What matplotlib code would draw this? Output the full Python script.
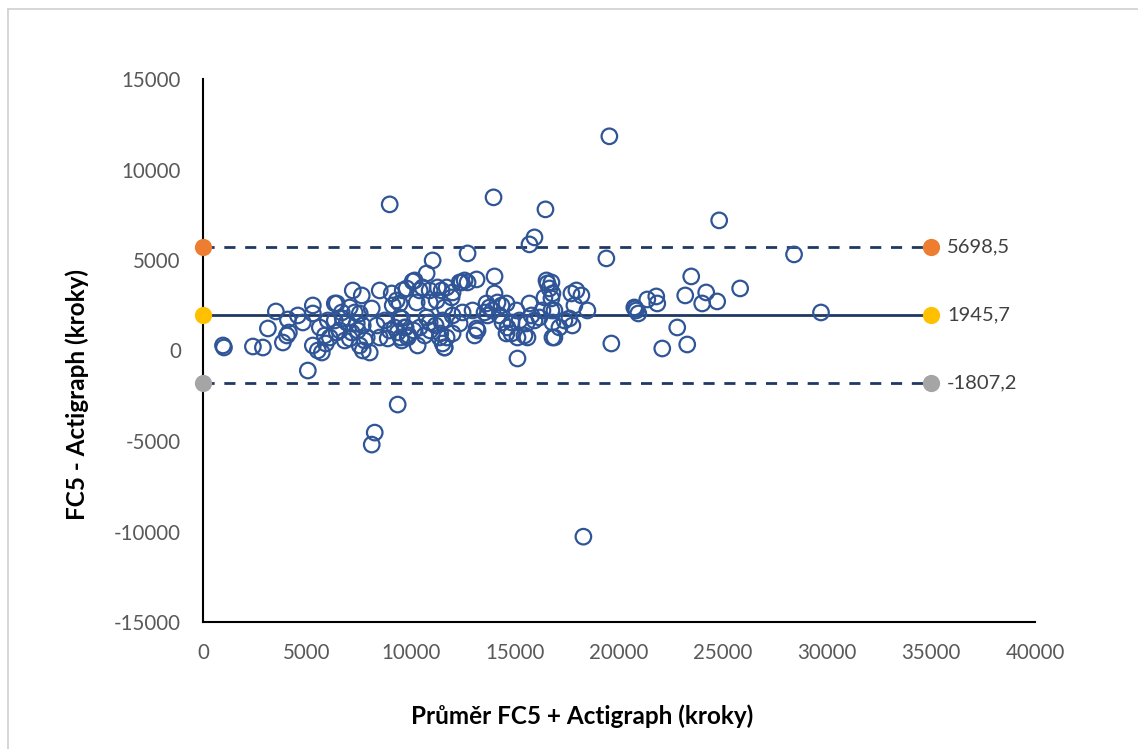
import matplotlib
matplotlib.use("Agg")
import matplotlib.pyplot as plt
from matplotlib.lines import Line2D

# Bland-Altman data: mean of FC5 and Actigraph (x), difference FC5 - Actigraph (y)
mean_steps = [
    960, 1008, 2400, 2880, 3120, 3504, 3840, 4032, 4128, 4080, 4560, 4800, 5040, 5280, 5280,
    5280, 5520, 5712, 5856, 6000, 6096, 6336,
    6432, 7200, 7632, 7056, 7296, 8112, 6336, 6912, 6432, 7152, 7680, 7776, 8016, 7680, 8496,
    8496, 9072, 9312, 9120, 9792, 10176, 10416, 10896, 11280, 10272, 10896, 11232, 11040, 9552,
    9696, 9552, 9840, 10320, 10416, 10896, 11472, 11376, 11616, 8736, 8976, 8352, 7392,
    9456, 9216, 8880, 9360, 9888, 10128, 10656, 10752, 11184, 10752, 10080, 6672,
    5616, 5904, 6576, 6816, 7056, 7440, 7872, 7536, 6720, 7536,
    10560, 9600, 12432, 9456, 9744, 9504, 10920, 11408,
    11712, 12000, 12336, 12576, 12720, 13152, 14016, 14016, 14160, 14352, 14592, 13920, 13680,
    14256, 14400, 14640, 14832, 15072, 15216, 15456, 15600, 15696, 15792, 15936, 16176, 16320,
    16512, 16560, 16656, 16416, 16752, 16896, 16800, 15120, 11712, 11520, 12000, 11616, 12960,
    13152, 13056, 13200, 12480, 12336, 12000, 11520, 11616, 11952, 11472, 13776, 13536, 13632,
    14592, 15120, 15552, 14832,
    16752, 16800, 16752, 16800, 16896, 17136, 17376, 17616, 17760, 17712, 17952, 18192, 17856,
    18480, 19392, 19632, 20736, 20832, 20928, 21360, 21792, 21840, 22080, 22800, 20784,
    19536, 24816, 28416, 23472, 24192, 23184, 25824, 24720, 24000, 23280, 29712,
    8976, 13968, 16464, 15936, 15696, 12720, 9360, 8256, 8112, 18288,
]
diff_steps = [
    277, 166, 221, 166, 1217, 2157, 442, 830, 995, 1714, 1936, 1548, -1106, 2489, 2046,
    277, 0, -111, 830, 1659, 719, 2599,
    2599, 3318, 3042, 2378, 2101, 2323, 1659, 1548, 995, 995, 1383, 553, -111, 0, 719,
    3318, 3152, 2765, 2489, 3429, 3871, 3318, 3318, 3484, 2654, 2654, 2765, 4977, 1770,
    1272, 553, 719, 277, 1272, 1548, 1548, 719, 166, 1659, 1106, 1383, 1493,
    1825, 1272, 664, 995, 830, 1106, 830, 1825, 1383, 4258, 3816, 2101,
    1272, 387, 1106, 553, 664, 1106, 719, 277, 1770, 2046,
    3484, 3318, 3760, 2599, 1272, 719, 1106, 940,
    3484, 3207, 3760, 3871, 3760, 3926, 4092, 3152, 2654, 2489, 2599, 2212, 1936,
    1936, 1548, 1272, 940, 2212, 1659, 830, 719, 2599, 1936, 1659, 1825, 2212,
    3871, 3705, 3429, 2931, 2876, 2212, 719, -442, 719, 387, 940, 166, 2212,
    1217, 830, 1106, 2101, 1493, 1936, 1659, 2378, 2931, 3318, 2378, 2101, 2599,
    940, 719, 1493, 1548,
    3760, 3152, 2212, 1548, 719, 1272, 1659, 1770, 1383, 3152, 3318, 3042, 2489,
    2212, 5088, 387, 2378, 2212, 2046, 2820, 2986, 2599, 111, 1272, 2323,
    11834, 7189, 5309, 4092, 3207, 3042, 3429, 2710, 2599, 332, 2101,
    8074, 8461, 7797, 6249, 5862, 5364, -2986, -4535, -5198, -10286,
]

bias = 1945.7
upper_loa = 5698.5
lower_loa = -1807.2
line_x = [0, 35000]
loa_labels = ["5698,5", "1945,7", "-1807,2"]
loa_values = [upper_loa, bias, lower_loa]
loa_colors = ["#ED7D31", "#FFC000", "#A5A5A5"]
loa_styles = ["--", "-", "--"]

x_ticks = [0, 5000, 10000, 15000, 20000, 25000, 30000, 35000, 40000]
y_ticks = [-15000, -10000, -5000, 0, 5000, 10000, 15000]

font = ["Lato", "DejaVu Sans"]
plt.rcParams["font.family"] = font
plt.rcParams["axes.unicode_minus"] = False

fig = plt.figure(figsize=(11.38, 7.49), dpi=100)
# chart-area frame (only top and left edges visible in the crop)
fig.lines.append(Line2D([8 / 1138, 1], [1 - 9 / 749, 1 - 9 / 749], transform=fig.transFigure,
                        color="#D0D0D0", linewidth=1.2))
fig.lines.append(Line2D([8 / 1138, 8 / 1138], [0, 1 - 9 / 749], transform=fig.transFigure,
                        color="#D0D0D0", linewidth=1.2))

ax = fig.add_axes([203 / 1138, 1 - 622 / 749, (1035 - 203) / 1138, (622 - 79) / 749])

navy = "#203864"
point_blue = "#2F5597"

for val, ls in zip(loa_values, loa_styles):
    ax.plot(line_x, [val, val], color=navy, linestyle=ls, linewidth=2,
            dashes=(4, 3.5) if ls == "--" else (None, None), zorder=2)

ax.scatter(mean_steps, diff_steps, s=125, facecolors="none", edgecolors=point_blue,
           linewidths=1.6, zorder=3)

for val, col, lab in zip(loa_values, loa_colors, loa_labels):
    ax.scatter(line_x, [val, val], s=130, color=col, zorder=4, clip_on=False)
    ax.annotate(lab, xy=(35000, val), xytext=(16, 0), textcoords="offset pixels",
                ha="left", va="center", fontsize=14.5, color="#404040")

ax.set_xlim(0, 40000)
ax.set_ylim(-15000, 15000)
ax.set_xticks(x_ticks)
ax.set_yticks(y_ticks)
ax.tick_params(axis="y", length=0, labelsize=14.8, labelcolor="#595959", pad=16)
ax.tick_params(axis="x", length=0, labelsize=14.8, labelcolor="#595959", pad=15)
for s in ["top", "right"]:
    ax.spines[s].set_visible(False)
for s in ["left", "bottom"]:
    ax.spines[s].set_color("black")
    ax.spines[s].set_linewidth(1.5)

fig.text(77 / 1138, 1 - 394 / 749, "FC5 - Actigraph (kroky)", rotation=90,
         ha="center", va="center", fontsize=17.5, fontweight="bold", color="black")
fig.text(582 / 1138, 1 - 716 / 749, "Průměr FC5 + Actigraph (kroky)",
         ha="center", va="center", fontsize=17.5, fontweight="bold", color="black")

fig.savefig("out.png", dpi=100)
